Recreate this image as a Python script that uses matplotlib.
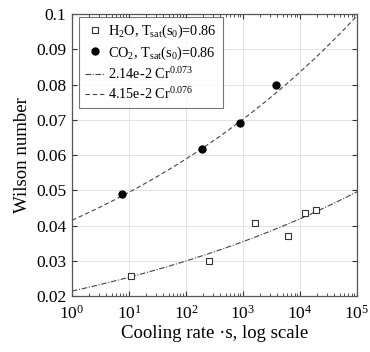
import numpy as np
import matplotlib
matplotlib.use("Agg")
import matplotlib.pyplot as plt
from matplotlib.ticker import LogLocator, NullFormatter, FixedLocator

plt.rcParams['font.family'] = ['Liberation Serif', 'DejaVu Serif']
plt.rcParams['mathtext.fontset'] = 'custom'
plt.rcParams['mathtext.rm'] = 'Liberation Serif'
plt.rcParams['mathtext.it'] = 'Liberation Serif:italic'

# Data
h2o_cr = [10.8, 254, 1650, 6100, 12400, 18700]
h2o_wi = [0.0258, 0.0300, 0.0406, 0.0370, 0.0436, 0.0443]
co2_cr = [7.4, 192, 895, 3800]
co2_wi = [0.0490, 0.0617, 0.0690, 0.0800]

fit_h2o_a, fit_h2o_b = 2.14e-2, 0.073
fit_co2_a, fit_co2_b = 4.15e-2, 0.076

y_ticks = [0.02, 0.03, 0.04, 0.05, 0.06, 0.07, 0.08, 0.09, 0.1]
y_tick_labels = ['0.02', '0.03', '0.04', '0.05', '0.06', '0.07', '0.08', '0.09', '0.1']

fig = plt.figure(figsize=(3.70, 3.52), dpi=100)
ax = fig.add_axes([0.1946, 0.159, 0.7704, 0.801])

cr = np.logspace(0, 5, 300)
ax.plot(h2o_cr, h2o_wi, 's', mfc='white', mec='#333333', ms=4, mew=0.8,
        label=r'H$_2$O, T$_{\rm sat}$(s$_0$)=0.86', zorder=4)
ax.plot(co2_cr, co2_wi, 'o', color='black', ms=5,
        label=r'CO$_2$, T$_{\rm sat}$(s$_0$)=0.86', zorder=4)
ax.plot(cr, fit_h2o_a * cr ** fit_h2o_b, color='#444444', lw=0.8,
        dashes=(5, 1.5, 1, 1.5), label=r'2.14e-2 Cr$^{0.073}$')
ax.plot(cr, fit_co2_a * cr ** fit_co2_b, color='#444444', lw=0.8,
        dashes=(4, 2.5), label=r'4.15e-2 Cr$^{0.076}$')

ax.set_xscale('log')
ax.set_xlim(1, 1e5)
ax.set_ylim(0.02, 0.1)
ax.yaxis.set_major_locator(FixedLocator(y_ticks))
ax.set_yticklabels(y_tick_labels)
ax.xaxis.set_major_locator(LogLocator(base=10, numticks=10))
ax.xaxis.set_minor_locator(LogLocator(base=10, subs=np.arange(2, 10), numticks=20))
ax.xaxis.set_minor_formatter(NullFormatter())

ax.grid(True, which='major', color='#e3e3e3', lw=0.7)
ax.tick_params(which='both', direction='in', top=True, right=True,
               labelsize=12.5, color='#333333')
ax.tick_params(axis='y', pad=4)
ax.tick_params(axis='x', pad=6)
ax.tick_params(which='major', length=3.5)
ax.tick_params(which='minor', length=2)
for s in ax.spines.values():
    s.set_color('#555555')
    s.set_linewidth(0.9)

ax.set_xlabel('Cooling rate ·s, log scale', fontsize=13.5, labelpad=2)
ax.set_ylabel('Wilson number', fontsize=13.5, labelpad=4)

leg = ax.legend(loc='upper left', fontsize=10.3, frameon=True, fancybox=False,
                edgecolor='#555555', handlelength=1.35, borderpad=0.4,
                labelspacing=0.3, handletextpad=0.3, borderaxespad=0,
                bbox_to_anchor=(0.025, 0.99))
leg.get_frame().set_linewidth(0.8)

fig.savefig('out.png', dpi=100)
